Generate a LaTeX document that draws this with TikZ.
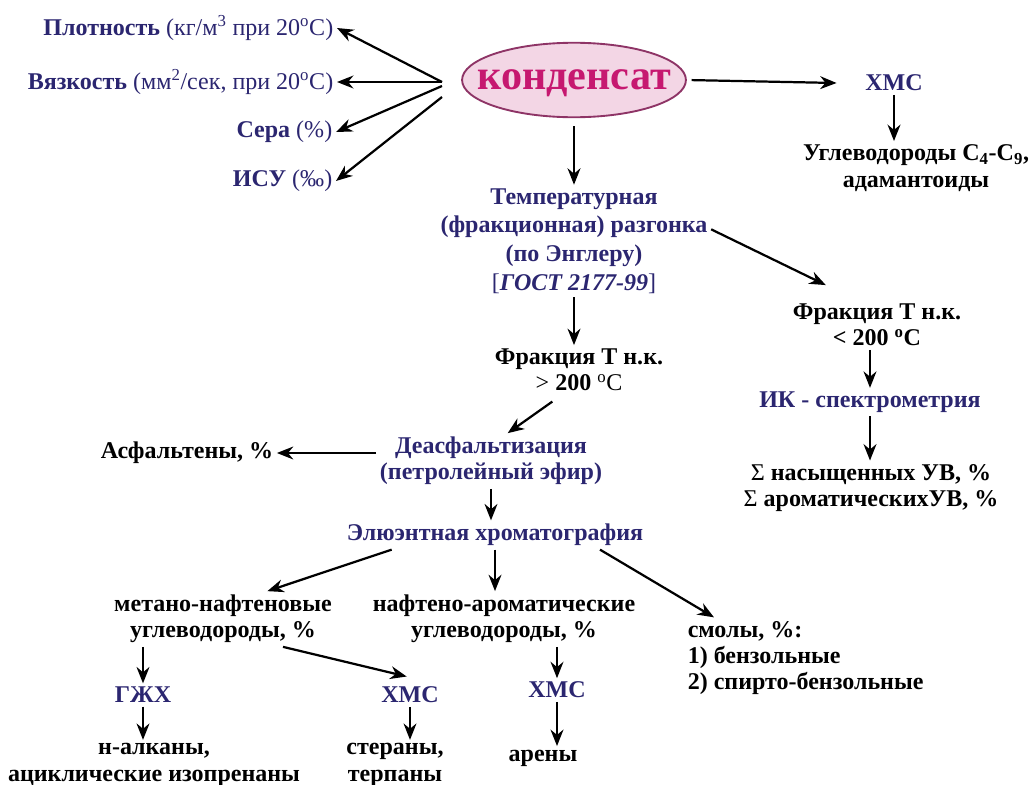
\documentclass[tikz,border=0pt]{standalone}
\usepackage{fontspec}
\setmainfont{Liberation Serif}
\usepackage{xcolor}
\usepackage{tikz}
\usetikzlibrary{arrows.meta,shapes}
\usetikzlibrary{positioning}

\definecolor{navy}{RGB}{43,38,112}
\definecolor{kondtext}{RGB}{198,24,112}
\definecolor{kondfill}{RGB}{243,214,229}
\definecolor{kondline}{RGB}{142,52,102}

\begin{document}
\begin{tikzpicture}[x=0.03cm, y=-0.03cm, font=\fontsize{20.5}{22.5}\selectfont\bfseries]
\tikzstyle{res} = [align=center, inner sep=3pt, text=black]
\tikzstyle{meth} = [res, text=navy]
\tikzstyle{arr} = [-{Stealth[length=14pt,width=11pt]}, line width=1.9pt]
\useasboundingbox (0,0) rectangle (1029,785);

% properties of the condensate
\node (plot) [meth, anchor=east] at (337,28) {Плотность \mdseries(кг/м\textsuperscript{3} при 20\textsuperscript{o}С)};
\node (vyaz) [meth, anchor=east] at (337,82) {Вязкость \mdseries(мм\textsuperscript{2}/сек, при 20\textsuperscript{o}С)};
\node (sera) [meth, anchor=east] at (336,132) {Сера \mdseries(\%)};
\node (isu) [meth, anchor=east] at (336,181) {ИСУ \mdseries(‰)};

\node (kond) [ellipse, draw=kondline, line width=1.6pt, fill=kondfill, text=kondtext,
  inner xsep=-15pt, inner ysep=14pt, text depth=0pt,
  font=\fontsize{36}{40}\selectfont\bfseries] at (574,80) {конденсат};
\coordinate (fan) at (442,82);

\node (hms1) [meth] at (894,83) {ХМС};
\node (uglev) [res] at (916,168) {Углеводороды С\textsubscript{4}-С\textsubscript{9},\\адамантоиды};

% distillation
\node (razg) [meth, font=\fontsize{20.5}{24.5}\selectfont\bfseries] at (574,241)
  {Температурная\\(фракционная) разгонка\\(по Энглеру)\\{\mdseries[}\textit{ГОСТ 2177-99}{\mdseries]}};
\node (fr1) [res] at (579,370) {Фракция Т н.к.\\{\mdseries>} 200 {\mdseries\textsuperscript{o}С}};
\node (fr2) [res] at (877,325) {Фракция Т н.к.\\< 200 \textsuperscript{o}C};
\node (ik) [meth] at (870,402) {ИК - спектрометрия};
\node (sum) [res] at (871,488) {{\mdseries Σ} насыщенных УВ, \%\\{\mdseries Σ} ароматическихУВ, \%};

% group composition
\node (deasf) [meth] at (491,461) {Деасфальтизация\\(петролейный эфир)};
\node (asf) [res] at (187,453) {Асфальтены, \%};
\node (elu) [meth] at (495,535) {Элюэнтная хроматография};
\node (metan) [res] at (223,619) {метано-нафтеновые\\углеводороды, \%};
\node (nafar) [res] at (504,619) {нафтено-ароматические\\углеводороды, \%};
\node (smoly) [res, align=left, anchor=west] at (684,658) {смолы, \%:\\1) бензольные\\2) спирто-бензольные};

\node (gzh) [meth] at (143,695) {ГЖХ};
\node (nalk) [res] at (154,765) {н-алканы,\\ациклические изопренаны};
\node (hms2) [meth] at (410,695) {ХМС};
\node (ster) [res] at (395,765) {стераны,\\терпаны};
\node (hms3) [meth] at (557,690) {ХМС};
\node (aren) [res] at (543,758) {арены};

\draw [arr] (fan) -- (plot.east);
\draw [arr] (fan) -- (vyaz.east);
\draw [arr] ([yshift=-0.12cm]fan) -- (sera.east);
\draw [arr] ([yshift=-0.45cm]fan) -- (isu.east);
\draw [arr, shorten <=4pt] (kond.east) -- ([xshift=-0.75cm]hms1.west);
\draw [arr] (hms1.south) -- (hms1.south |- uglev.north);
\draw [arr, shorten <=7pt] (kond.south) -- (razg.north);
\draw [arr] ([yshift=0.35cm]razg.east) -- ([shift={(1.1cm,0.45cm)}]fr2.north west);
\draw [arr] (razg.south) -- (razg.south |- fr1.north);
\draw [arr] (fr2.south -| ik.north) -- (ik.north);
\draw [arr] (ik.south) -- (ik.south |- sum.north);
\draw [arr] ([xshift=-0.8cm,yshift=-0.2cm]fr1.south) -- ([xshift=0.5cm]deasf.north);
\draw [arr] (deasf.west |- asf) -- (asf.east);
\draw [arr] (deasf.south) -- (deasf.south |- elu.north);
\draw [arr] ([xshift=-3.1cm]elu.south) -- ([xshift=1.33cm]metan.north);
\draw [arr] (elu.south) -- (elu.south |- nafar.north);
\draw [arr] ([xshift=3.15cm]elu.south) -- ([xshift=0.9cm]smoly.north west);
\draw [arr] (metan.south -| gzh.north) -- (gzh.north);
\draw [arr] (gzh.south) -- (gzh.south |- nalk.north);
\draw [arr] ([xshift=1.8cm]metan.south) -- ([shift={(-0.1cm,0.2cm)}]hms2.north);
\draw [arr] (hms2.south) -- (hms2.south |- ster.north);
\draw [arr] (nafar.south -| hms3.north) -- (hms3.north);
\draw [arr] (hms3.south) -- (hms3.south |- aren.north);
\end{tikzpicture}
\end{document}
